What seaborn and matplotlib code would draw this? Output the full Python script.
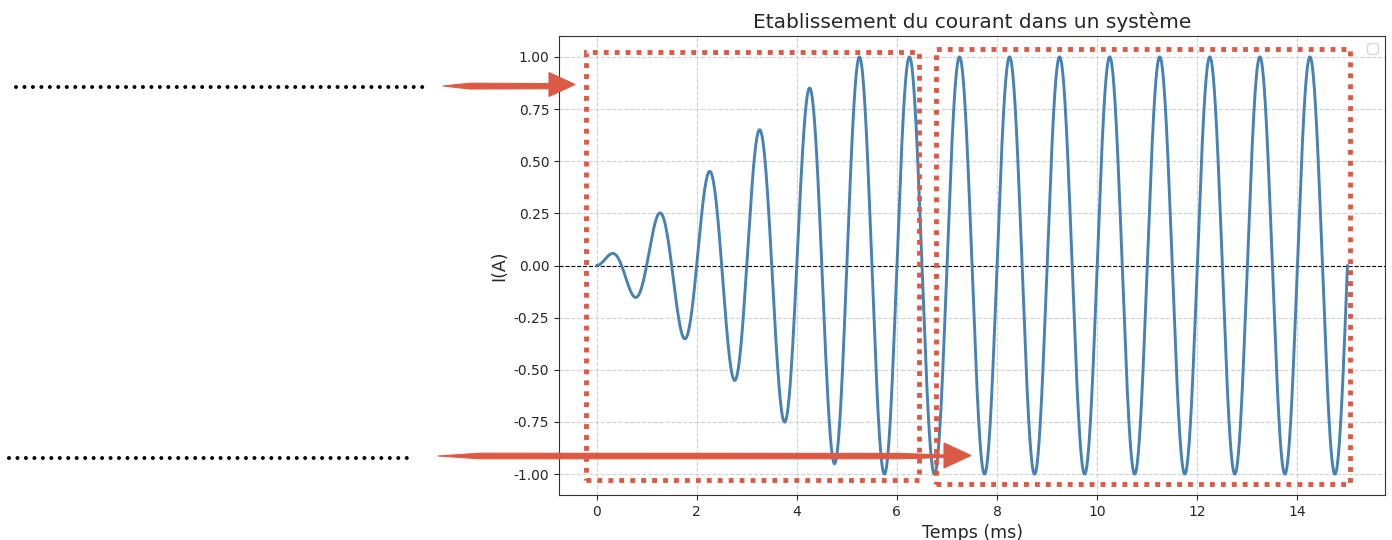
"""Etablissement du courant dans un systeme, with the annotations."""
import matplotlib
matplotlib.use("Agg")
import matplotlib.pyplot as plt
import numpy as np
import pandas as pd
import seaborn as sns
from matplotlib.lines import Line2D
from matplotlib.patches import Polygon, Rectangle

# readings from the picture
period_ms = 1.0
time_start, time_end = 0.0, 15.0
# time of each extremum (ms) and its absolute amplitude (A)
peak_times = [0.25, 0.75, 1.25, 1.75, 2.25, 2.75, 3.25, 3.75, 4.25, 4.75,
              5.25, 5.75, 6.25, 6.75, 7.25, 7.75, 8.25, 8.75, 9.25, 9.75,
              10.25, 10.75, 11.25, 11.75, 12.25, 12.75, 13.25, 13.75,
              14.25, 14.75]
peak_amps = [0.05, 0.15, 0.25, 0.35, 0.45, 0.55, 0.65, 0.75, 0.85, 0.95,
             1.0, 1.0, 1.0, 1.0, 1.0, 1.0, 1.0, 1.0, 1.0, 1.0,
             1.0, 1.0, 1.0, 1.0, 1.0, 1.0, 1.0, 1.0, 1.0, 1.0]

RED = "#dc5a45"
W, H = 1392, 540


def px(x, y):
    """Pixel position in the image -> figure fraction."""
    return x / W, 1 - y / H


# rebuild the curve: envelope through the read extrema times the carrier
t = np.linspace(time_start, time_end, 3001)
envelope = np.interp(t, [time_start] + peak_times, [0.0] + peak_amps)
df = pd.DataFrame({"t": t, "i": envelope * np.sin(2 * np.pi * t / period_ms)})

sns.set_style("ticks", {"axes.grid": True, "grid.linestyle": "--",
                        "grid.color": ".82", "axes.edgecolor": ".2"})
plt.rcParams["font.family"] = ["DejaVu Sans"]

fig = plt.figure(figsize=(W / 100, H / 100), dpi=100)
ax = fig.add_axes([559 / W, 45 / H, 826 / W, 459 / H])

sns.lineplot(data=df, x="t", y="i", ax=ax, color="#4682b4", lw=2.1,
             estimator=None)
ax.axhline(0, color="black", lw=0.8, ls="--", zorder=1.5)
ax.set_xlim(-0.75, 15.75)
ax.set_ylim(-1.1, 1.1)
ax.set_yticks([-1.0, -0.75, -0.5, -0.25, 0.0, 0.25, 0.5, 0.75, 1.0])
ax.yaxis.set_major_formatter(matplotlib.ticker.FormatStrFormatter("%.2f"))
ax.tick_params(labelsize=10)
ax.set_xlabel("Temps (ms)", fontsize=12.5)
ax.set_ylabel("I(A)", fontsize=12.5)
ax.set_title("Etablissement du courant dans un système", fontsize=14.5)
ax.legend(handles=[], loc="upper right")

# red dotted boxes around the transient and the steady state
for x0, x1, y0, y1 in [(-0.21, 6.44, -1.026, 1.023),
                       (6.78, 15.06, -1.047, 1.038)]:
    ax.add_patch(Rectangle((x0, y0), x1 - x0, y1 - y0, fill=False,
                           edgecolor=RED, lw=3.5, ls=(0, (1, 1.25)),
                           capstyle="butt", joinstyle="miter",
                           clip_on=False, zorder=4))

# black dotted lines on the left
for x0, x1, y in [(16, 423, 87.5), (9, 413, 458)]:
    (a, b), (c, _) = px(x0, y), px(x1, y)
    fig.add_artist(Line2D([a, c], [b, b], transform=fig.transFigure,
                          color="black", lw=2.9, ls=(0, (0.001, 2.1)),
                          dash_capstyle="round"))

# hand drawn red arrows
arrows = [
    ([(443, 86), (470, 83.2), (552, 83.6), (552, 88.8), (470, 89)],
     [(549, 72.5), (575, 84.5), (549, 96.5)]),
    ([(438, 456), (480, 453.2), (900, 453.4), (946, 455), (946, 457.5),
      (900, 458.8), (480, 458.8)],
     [(944, 443), (971, 455.5), (944, 468)]),
]
for shaft, head in arrows:
    for pts in (shaft, head):
        fig.add_artist(Polygon([px(*p) for p in pts], closed=True,
                               transform=fig.transFigure, facecolor=RED,
                               edgecolor=RED, lw=0.8, zorder=5))

fig.savefig("out.png", dpi=100)
